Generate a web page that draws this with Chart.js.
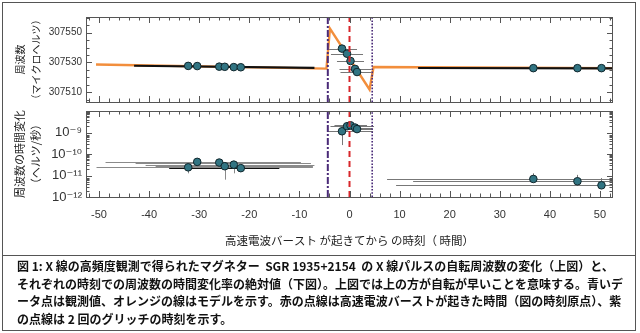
<!DOCTYPE html>
<html><head><meta charset="utf-8">
<script src="https://cdn.jsdelivr.net/npm/chart.js@4/dist/chart.umd.min.js"></script>
<style>
html,body{margin:0;padding:0;background:#fff;}
body{width:640px;height:333px;position:relative;overflow:hidden;}
#frame{position:absolute;left:2px;top:2px;width:632px;height:252px;border:1px solid #555;}
#c1{position:absolute;left:0;top:0;}
#c2{position:absolute;left:0;top:106px;}
#cap{position:absolute;left:2px;top:255px;border:1px solid #555;
 font-family:'Noto Sans CJK JP',sans-serif;font-weight:bold;font-size:12px;line-height:17.5px;color:#111;
 white-space:nowrap;padding:1px 0 0 14px;box-sizing:border-box;width:634px;height:76px;}
</style></head>
<body>
<div id="frame"></div>
<canvas id="c1" width="640" height="107"></canvas>
<canvas id="c2" width="640" height="150"></canvas>
<div id="cap">図 1: X 線の高頻度観測で得られたマグネター&nbsp; SGR 1935+2154&nbsp; の X 線パルスの自転周波数の変化（上図）と、<br>それぞれの時刻での周波数の時間変化率の絶対値（下図）。上図では上の方が自転が早いことを意味する。青いデ<br>ータ点は観測値、オレンジの線はモデルを示す。赤の点線は高速電波バーストが起きた時間（図の時刻原点）、紫<br>の点線は 2 回のグリッチの時刻を示す。</div>
<script>
// ---------- data ----------
const xRange = [-52.6, 52.6];
const xTickLabels = [-50, -40, -30, -20, -10, 0, 10, 20, 30, 40, 50];
const topRange = [307503.5, 307560.5];
const topTickLabels = [307510, 307530, 307550];
const botRange = [1e-12, 1e-8];
const botTickValues = [1e-12, 1e-11, 1e-10, 1e-9];
const botTickLabels = ['10⁻¹²', '10⁻¹¹', '10⁻¹⁰', '10⁻⁹'];

const glitchTimes = [-4.33, 4.53];
const frbTime = 0;

// model (orange) frequency curve
const modelX = [-50.6, -4.6, -3.9, 4.0, 4.8, 52.6];
const modelY = [307528.6, 307525.9, 307552.8, 307511.9, 307527.0, 307526.2];

// black averaged-fit segments in the upper panel
const fitLeftX = [-43, -7];
const fitLeftY = [307527.8, 307526.4];
const fitRightX = [13.7, 52.6];
const fitRightY = [307526.3, 307526.1];

// upper panel: measured frequency
const freqX = [-32.2, -30.4, -26.0, -24.9, -23.1, -21.7, -1.5, -0.5, 0.2, 1.1, 1.5, 36.7, 45.5, 50.3];
const freqY = [307527.7, 307527.6, 307527.2, 307527.1, 307526.9, 307526.8, 307539.3, 307535.9, 307531.0, 307525.7, 307523.6, 307526.2, 307526.2, 307526.2];
const freqXLo = [null, null, null, null, null, null, -4.1, -3.7, -2.5, -2.0, -1.8, null, null, null];
const freqXHi = [null, null, null, null, null, null, 1.5, 2.7, 2.9, 4.3, 4.3, null, null, null];

// lower panel: |frequency derivative|
const fdotX = [-32.2, -30.4, -26.0, -24.9, -23.1, -21.7, -1.5, -0.5, 0.2, 1.1, 1.5, 36.7, 45.5, 50.3];
const fdotY = [2.4e-11, 4.3e-11, 4.0e-11, 2.7e-11, 3.2e-11, 2.2e-11, 1.14e-9, 1.95e-9, 2.16e-9, 1.7e-9, 1.44e-9, 6.9e-12, 5.4e-12, 3.5e-12];
const fdotXLo = [-50.5, -48.7, -42.7, -38.7, -40.7, -36, -4.3, -3.8, -3.0, -2.0, -0.8, 7.5, 12.7, 9.3];
const fdotXHi = [-7.3, -9.7, -7.7, -7.3, -7.0, -14, 4.7, 4.9, 3.5, 4.5, 4.7, 60, 70, 70];
const fdotYLo = [1.26e-11, 3.6e-11, 3.4e-11, 6.4e-12, 1.26e-11, 1.9e-11, 2.6e-10, 1.8e-9, 2.0e-9, 1.55e-9, 1.3e-9, 5.4e-12, 4.6e-12, 2.8e-12];
const fdotYHi = [2.9e-11, 5.3e-11, 4.8e-11, 3.4e-11, 4.3e-11, 2.5e-11, 1.3e-9, 2.1e-9, 2.35e-9, 1.85e-9, 1.6e-9, 1.26e-11, 1.07e-11, 7.6e-12];

// ---------- styling ----------
const ORANGE = '#f28e3c', PURPLE = '#4a2b78', RED = '#d7262b';
const PT_FILL = '#317482', PT_EDGE = '#10262c';
const LATIN = "'Liberation Sans', 'DejaVu Sans', sans-serif";
const CJK = "'Noto Sans CJK JP', sans-serif";

const pts = (xs, ys) => xs.map((x, i) => ({x, y: ys[i]}));
const vline = (x, r) => [{x, y: r[0]}, {x, y: r[1]}];

function eventLines(r) {
  return [
    {data: vline(glitchTimes[0], r), showLine: true, pointRadius: 0, borderColor: PURPLE, borderWidth: 2, borderDash: [7, 2, 2, 2], order: 0},
    {data: vline(frbTime, r), showLine: true, pointRadius: 0, borderColor: RED, borderWidth: 2, borderDash: [6, 4], order: 0},
    {data: vline(glitchTimes[1], r), showLine: true, pointRadius: 0, borderColor: PURPLE, borderWidth: 1.6, borderDash: [1.6, 1.6], order: 0}
  ];
}

// inward tick marks + frame
const inTicks = {
  id: 'inTicks',
  afterDatasetsDraw(chart, args, o) {
    const {ctx, chartArea: a, scales: {x, y}} = chart;
    ctx.save();
    ctx.strokeStyle = '#555'; ctx.lineWidth = 1;
    ctx.beginPath();
    const L = (x1, y1, x2, y2) => { ctx.moveTo(x1, y1); ctx.lineTo(x2, y2); };
    for (let v = -52; v <= 52; v += 2) {
      const p = Math.round(x.getPixelForValue(v)) + 0.5;
      const len = v % 10 === 0 ? 6 : 3.5;
      L(p, a.top, p, a.top + len); L(p, a.bottom, p, a.bottom - len);
    }
    o.yMajor.forEach(v => { const p = Math.round(y.getPixelForValue(v)) + 0.5; L(a.left, p, a.left + 6, p); L(a.right, p, a.right - 6, p); });
    o.yMinor.forEach(v => { const p = Math.round(y.getPixelForValue(v)) + 0.5; L(a.left, p, a.left + 3.5, p); L(a.right, p, a.right - 3.5, p); });
    ctx.stroke();
    ctx.strokeRect(a.left + 0.5, a.top + 0.5, a.right - a.left - 1, a.bottom - a.top);
    ctx.restore();
  }
};

// error bars
const errBars = {
  id: 'errBars',
  beforeDatasetsDraw(chart, args, o) {
    const {ctx, chartArea: a, scales: {x, y}} = chart;
    ctx.save();
    ctx.beginPath(); ctx.rect(a.left, a.top, a.right - a.left, a.bottom - a.top); ctx.clip();
    ctx.lineWidth = 1;
    o.xs.forEach((xv, i) => {
      const px = x.getPixelForValue(xv), py = y.getPixelForValue(o.ys[i]);
      ctx.strokeStyle = o.colors ? o.colors[i] : '#7a7a7a';
      ctx.beginPath();
      if (o.xlo && o.xlo[i] != null) {
        const yy = Math.round(py) + 0.5;
        ctx.moveTo(x.getPixelForValue(o.xlo[i]), yy); ctx.lineTo(x.getPixelForValue(o.xhi[i]), yy);
      }
      if (o.ylo && o.ylo[i] != null) {
        const xx = Math.round(px) + 0.5;
        ctx.moveTo(xx, y.getPixelForValue(o.ylo[i])); ctx.lineTo(xx, y.getPixelForValue(o.yhi[i]));
      }
      ctx.stroke();
    });
    ctx.restore();
  }
};

const noPad = s => { s.paddingTop = 0; s.paddingBottom = 0; };

const xScale = (display) => {
  const sc = {
    type: 'linear', min: xRange[0], max: xRange[1], display,
    grid: {display: false, drawTicks: false}, border: {display: false},
    afterBuildTicks: s => { s.ticks = xTickLabels.map(v => ({value: v})); },
    ticks: {color: '#333', font: {family: LATIN, size: 11}, padding: 11, maxRotation: 0, autoSkip: false},
    title: {display: true, text: '高速電波バースト が起きてから の時刻（ 時間）', color: '#222', font: {family: CJK, size: 11.5}, padding: {top: 0, bottom: 8}}
  };
  if (display) sc.afterFit = s => { s.height = 59; s.paddingLeft = 0; s.paddingRight = 0; };
  return sc;
};

const topMinor = [], topMajor = topTickLabels.slice();
for (let v = 307505; v <= 307560; v += 5) if (!topMajor.includes(v)) topMinor.push(v);
const botMinor = [];
for (let e = -12; e < -8; e++) for (let k = 2; k <= 9; k++) botMinor.push(k * Math.pow(10, e));

Chart.defaults.animation = false;

new Chart(document.getElementById('c1'), {
  type: 'scatter',
  data: {datasets: [
    ...eventLines(topRange),
    {data: pts(freqX, freqY), pointRadius: 3.8, pointBackgroundColor: PT_FILL, pointBorderColor: PT_EDGE, pointBorderWidth: 1, order: 1},
    {data: pts(fitLeftX, fitLeftY), showLine: true, pointRadius: 0, borderColor: '#111', borderWidth: 2.2, order: 2},
    {data: pts(fitRightX, fitRightY), showLine: true, pointRadius: 0, borderColor: '#111', borderWidth: 2.2, order: 2},
    {data: pts(modelX, modelY), showLine: true, pointRadius: 0, borderColor: ORANGE, borderWidth: 2.4, order: 3}
  ]},
  options: {
    responsive: false, animation: false,
    layout: {padding: {left: 0, right: 27, top: 17, bottom: 1}},
    plugins: {legend: {display: false}, tooltip: {enabled: false},
      inTicks: {yMajor: topMajor, yMinor: topMinor},
      errBars: {xs: freqX, ys: freqY, xlo: freqXLo, xhi: freqXHi, colors: freqX.map(() => '#777')}},
    scales: {
      x: xScale(false),
      y: {type: 'linear', min: topRange[0], max: topRange[1],
        grid: {display: false, drawTicks: false}, border: {display: false},
        afterBuildTicks: s => { s.ticks = topTickLabels.map(v => ({value: v})); },
        ticks: {color: '#333', font: {family: LATIN, size: 10}, padding: 4, callback: v => String(v)},
        title: {display: true, text: ['周波数', '（マイクロヘルツ）'], color: '#222', font: {family: CJK, size: 10, lineHeight: 1.6}, padding: {top: 12, bottom: 0}},
        afterFit: s => { s.width = 86; noPad(s); }}
    }
  },
  plugins: [inTicks, errBars]
});

const fdotColors = fdotX.map((v, i) => i === 5 ? '#111' : (i < 6 ? '#8a8a8a' : '#777'));
new Chart(document.getElementById('c2'), {
  type: 'scatter',
  data: {datasets: [
    ...eventLines(botRange),
    {data: pts(fdotX, fdotY), pointRadius: 3.8, pointBackgroundColor: PT_FILL, pointBorderColor: PT_EDGE, pointBorderWidth: 1, order: 1}
  ]},
  options: {
    responsive: false, animation: false,
    layout: {padding: {left: 0, right: 27, top: 0, bottom: 0}},
    plugins: {legend: {display: false}, tooltip: {enabled: false},
      inTicks: {yMajor: botTickValues.concat([1e-8]), yMinor: botMinor},
      errBars: {xs: fdotX, ys: fdotY, xlo: fdotXLo, xhi: fdotXHi, ylo: fdotYLo, yhi: fdotYHi, colors: fdotColors}},
    scales: {
      x: xScale(true),
      y: {type: 'logarithmic', min: botRange[0], max: botRange[1],
        grid: {display: false, drawTicks: false}, border: {display: false},
        afterBuildTicks: s => { s.ticks = botTickValues.map(v => ({value: v})); },
        ticks: {color: '#333', font: {family: LATIN, size: 13}, padding: 4,
          callback: (v) => botTickLabels[botTickValues.findIndex(t => Math.abs(t - v) / t < 1e-6)]},
        title: {display: true, text: ['周波数の時間変化', '（ヘルツ/秒）'], color: '#222', font: {family: CJK, size: 11, lineHeight: 1.45}, padding: {top: 12, bottom: 0}},
        afterFit: s => { s.width = 86; noPad(s); }}
    }
  },
  plugins: [inTicks, errBars]
});
</script>
</body></html>
